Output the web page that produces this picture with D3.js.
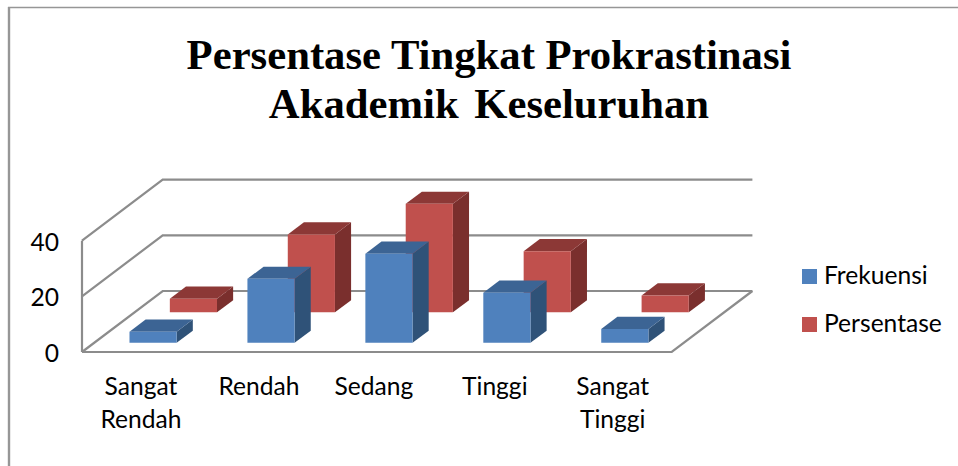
<!DOCTYPE html>
<html>
<head>
<meta charset="utf-8">
<script src="https://cdn.jsdelivr.net/npm/d3@7"></script>
<style>
  html, body { margin: 0; padding: 0; background: #fff; overflow: hidden; }
  .title { font-family: "Liberation Serif", serif; font-weight: bold; font-size: 42.7px; fill: #000; }
  .axis text, .legend text { font-family: Lato, "Open Sans", sans-serif; font-size: 24.6px; fill: #000; }
  .grid { fill: none; stroke: #8c8c8c; stroke-width: 2.2; }
</style>
</head>
<body>
<div id="chart"></div>
<script>
// data
var categories = ["Sangat Rendah", "Rendah", "Sedang", "Tinggi", "Sangat Tinggi"];
var seriesNames = ["Frekuensi", "Persentase"];
var frekuensi = [4, 23, 32, 18, 5];
var persentase = [4.9, 28, 39, 22, 6.1];
var yTicks = [0, 20, 40];
var titleLines = ["Persentase Tingkat Prokrastinasi", "Akademik Keseluruhan"];

var colors = {
    Frekuensi: { front: "#4f81bd", top: "#3c6494", side: "#2f5278" },
    Persentase: { front: "#c0504d", top: "#8c3836", side: "#7a2f2d" }
};

var width = 958, height = 466;

var svg = d3.select("#chart").append("svg")
    .attr("width", width)
    .attr("height", height)
    .style("display", "block");

// chart frame, only the top and left edges are in the crop
svg.append("path")
    .attr("d", "M9,466V7")
    .attr("fill", "none")
    .attr("stroke", "#969696")
    .attr("stroke-width", 2.4);

svg.append("path")
    .attr("d", "M8,7.5H958")
    .attr("fill", "none")
    .attr("stroke", "#969696")
    .attr("stroke-width", 1.5);

// title
svg.append("text")
    .attr("class", "title")
    .attr("text-anchor", "middle")
    .selectAll("tspan")
    .data(titleLines)
    .enter().append("tspan")
    .attr("x", 489)
    .attr("y", function(d, i) { return 69 + i * 49; })
    .attr("word-spacing", function(d, i) { return i == 1 ? 5 : 0; })
    .text(function(d) { return d; });

// scales, z runs from the front of the floor (0) to the back wall (1)
var x = d3.scaleBand()
    .domain(categories)
    .range([82, 671.7])
    .paddingInner(0.6)
    .paddingOuter(0.3);

var y = d3.scaleLinear()
    .domain([0, 40])
    .range([352, 240.7]);

var z = d3.scaleBand()
    .domain(seriesNames)
    .range([0, 1])
    .paddingInner(0.6)
    .paddingOuter(0.3);

var depthX = 80.7, depthY = 61;

function project(px, value, depth) {
    return [px + depth * depthX, y(value) - depth * depthY];
}

var line = d3.line();

// walls and floor
var x0 = x.range()[0], x1 = x.range()[1];
var grid = svg.append("g");

yTicks.forEach(function(t) {
    grid.append("path")
        .attr("class", "grid")
        .attr("d", line([project(x0, t, 0), project(x0, t, 1), project(x1, t, 1)]));
});

grid.append("path")
    .attr("class", "grid")
    .attr("d", line([project(x0, 0, 0), project(x1, 0, 0), project(x1, 0, 1)]));

grid.append("path")
    .attr("class", "grid")
    .attr("d", line([project(x0, 0, 0), project(x0, yTicks[yTicks.length - 1], 0)]));

// bars, back row first so the front row covers it
var rows = [
    { name: "Persentase", values: persentase },
    { name: "Frekuensi", values: frekuensi }
];

rows.forEach(function(row) {
    var c = colors[row.name];
    var z0 = z(row.name), z1 = z0 + z.bandwidth();

    var bars = svg.append("g").selectAll("g")
        .data(row.values)
        .enter().append("g");

    function xl(i) { return x(categories[i]); }
    function xr(i) { return xl(i) + x.bandwidth(); }

    bars.append("path")
        .attr("fill", c.side)
        .attr("d", function(d, i) {
            return line([project(xr(i), 0, z0), project(xr(i), 0, z1), project(xr(i), d, z1), project(xr(i), d, z0)]) + "Z";
        });

    bars.append("path")
        .attr("fill", c.top)
        .attr("d", function(d, i) {
            return line([project(xl(i), d, z0), project(xr(i), d, z0), project(xr(i), d, z1), project(xl(i), d, z1)]) + "Z";
        });

    bars.append("path")
        .attr("fill", c.front)
        .attr("d", function(d, i) {
            return line([project(xl(i), 0, z0), project(xr(i), 0, z0), project(xr(i), d, z0), project(xl(i), d, z0)]) + "Z";
        });
});

// axes
var yAxis = d3.axisLeft(y)
    .tickValues(yTicks)
    .tickSize(0)
    .tickPadding(23);

var yG = svg.append("g")
    .attr("class", "axis")
    .attr("transform", "translate(82,1.5)")
    .call(yAxis);
yG.select(".domain").remove();

var xAxis = d3.axisBottom(x).tickSize(0);

var xG = svg.append("g")
    .attr("class", "axis")
    .attr("transform", "translate(0,352)")
    .call(xAxis);
xG.select(".domain").remove();

// category names break over two lines, Sedang sits a little off centre in the source
var labelShift = { "Sedang": -3 };

xG.selectAll(".tick text").each(function(d) {
    var words = d.split(" ");
    var t = d3.select(this).text(null).attr("y", null).attr("dy", null);
    words.forEach(function(w, i) {
        t.append("tspan")
            .attr("x", labelShift[d] || 0)
            .attr("y", 43 + i * 33)
            .text(w);
    });
});

// legend
var legend = svg.append("g")
    .attr("class", "legend")
    .selectAll("g")
    .data(seriesNames)
    .enter().append("g")
    .attr("transform", function(d, i) { return "translate(802," + (269 + i * 48) + ")"; });

legend.append("rect")
    .attr("width", 15)
    .attr("height", 15)
    .attr("fill", function(d) { return colors[d].front; });

legend.append("text")
    .attr("x", 22)
    .attr("y", 15)
    .text(function(d) { return d; });
</script>
</body>
</html>
